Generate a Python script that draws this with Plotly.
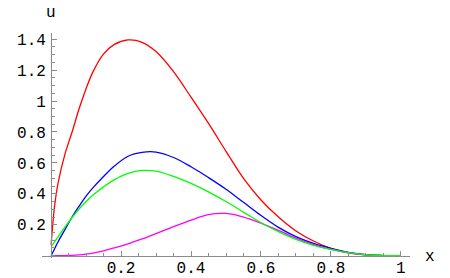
import plotly.graph_objects as go

x_vals = [0, 0.01, 0.02, 0.04, 0.06, 0.08, 0.1, 0.12, 0.15, 0.18, 0.22, 0.26, 0.3, 0.35, 0.4, 0.45,
          0.5, 0.55, 0.6, 0.65, 0.7, 0.75, 0.8, 0.85, 0.9, 0.95, 1.0]

u_red = [0.07, 0.32, 0.47, 0.66, 0.8, 0.95, 1.08, 1.19, 1.305, 1.365, 1.395, 1.38, 1.32, 1.19, 1.025,
         0.855, 0.675, 0.5, 0.36, 0.25, 0.16, 0.095, 0.047, 0.018, 0.005, 0.001, 0.0]
u_blue = [0.0, 0.045, 0.09, 0.17, 0.25, 0.32, 0.385, 0.44, 0.512, 0.578, 0.643, 0.668, 0.67, 0.635,
          0.575, 0.505, 0.43, 0.345, 0.26, 0.183, 0.123, 0.079, 0.047, 0.022, 0.007, 0.001, 0.0]
u_green = [0.058, 0.09, 0.122, 0.186, 0.247, 0.302, 0.35, 0.392, 0.445, 0.49, 0.532, 0.551, 0.547,
           0.513, 0.468, 0.413, 0.35, 0.282, 0.213, 0.155, 0.105, 0.067, 0.041, 0.02, 0.006, 0.001, 0.0]
u_magenta = [0.0, 0.0, 0.0, 0.001, 0.002, 0.005, 0.01, 0.017, 0.031, 0.05, 0.077, 0.108, 0.143, 0.188,
             0.23, 0.266, 0.273, 0.25, 0.21, 0.163, 0.113, 0.072, 0.04, 0.018, 0.005, 0.001, 0.0]

x_ticks = [0.2, 0.4, 0.6, 0.8, 1.0]
x_tick_text = ["0.2", "0.4", "0.6", "0.8", "1"]
y_ticks = [0.2, 0.4, 0.6, 0.8, 1.0, 1.2, 1.4]
y_tick_text = ["0.2", "0.4", "0.6", "0.8", "1", "1.2", "1.4"]

series = [("red", u_red, "#ff0000"), ("blue", u_blue, "#0000ff"),
          ("magenta", u_magenta, "#ff00ff"), ("green", u_green, "#00ff00")]

fig = go.Figure()
for name, ys, col in series:
    fig.add_trace(go.Scatter(x=x_vals, y=ys, mode="lines", name=name,
                             line=dict(color=col, width=1.3, shape="spline", smoothing=1.0)))

xmin, xmax = -0.026, 1.026
ymin, ymax = -0.015, 1.44
W, H = 450, 278
L, R, T, B = 42, 40, 33, 20
pw, ph = W - L - R, H - T - B

font = dict(family="Liberation Mono, Courier New, monospace", size=16, color="#000000")
axis_col = "#8c8c8c"


def px_to_paper(px, py):
    return (px - L) / pw, (H - B - py) / ph


ux, uy = px_to_paper(50.5, 13)
xx, xy = px_to_paper(429.5, 257)

fig.update_layout(
    width=W, height=H,
    margin=dict(l=L, r=R, t=T, b=B, autoexpand=False),
    paper_bgcolor="white", plot_bgcolor="white",
    showlegend=False,
    font=font,
    xaxis=dict(range=[xmin, xmax], anchor="free", position=(0 - ymin) / (ymax - ymin),
               automargin=False, domain=[0, 1],
               showline=True, linecolor=axis_col, linewidth=1, showgrid=False, zeroline=False,
               tickvals=x_ticks, ticktext=x_tick_text, ticks="inside", ticklen=5, tickcolor=axis_col,
               minor=dict(dtick=0.05, tick0=0, ticks="inside", ticklen=3, tickcolor=axis_col),
               ticklabelstandoff=-3, tickfont=font),
    yaxis=dict(range=[ymin, ymax], anchor="free", position=(0 - xmin) / (xmax - xmin),
               automargin=False, domain=[0, 1],
               showline=True, linecolor=axis_col, linewidth=1, showgrid=False, zeroline=False,
               tickvals=y_ticks, ticktext=y_tick_text, ticks="inside", ticklen=5, tickcolor=axis_col,
               minor=dict(dtick=0.05, tick0=0, ticks="inside", ticklen=3, tickcolor=axis_col),
               ticklabelstandoff=2, tickfont=font),
    annotations=[
        dict(x=xx, y=xy, xref="paper", yref="paper", text="x", showarrow=False, font=font,
             xanchor="center", yanchor="middle"),
        dict(x=ux, y=uy, xref="paper", yref="paper", text="u", showarrow=False, font=font,
             xanchor="center", yanchor="middle"),
    ],
)

fig.write_html("out.html", config={"displayModeBar": False},
               post_script="document.body.style.margin='0px';document.body.style.padding='0px';")
